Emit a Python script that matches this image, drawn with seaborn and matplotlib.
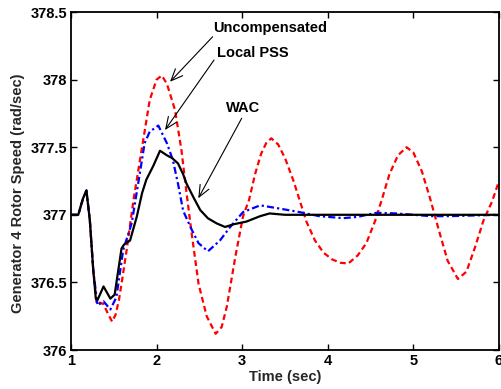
import numpy as np
import pandas as pd
import matplotlib
matplotlib.use("Agg")
import matplotlib.pyplot as plt
import seaborn as sns

# --- data ---
unc_t = [1.00, 1.085, 1.14, 1.18, 1.22, 1.26, 1.30, 1.34, 1.38, 1.43, 1.48, 1.52, 1.56,
         1.60, 1.65, 1.73, 1.825, 1.92, 2.00, 2.06, 2.12, 2.215, 2.29, 2.35, 2.41,
         2.49, 2.585, 2.69, 2.76, 2.82, 2.92, 3.01, 3.08, 3.15, 3.22, 3.28, 3.34,
         3.42, 3.50, 3.60, 3.67, 3.75, 3.85, 3.95, 4.05, 4.15, 4.24, 4.35, 4.45,
         4.55, 4.63, 4.72, 4.82, 4.92, 5.00, 5.10, 5.20, 5.30, 5.40, 5.52, 5.62,
         5.72, 5.82, 5.92, 6.00]
unc_y = [377.00, 377.00, 377.12, 377.18, 376.96, 376.59, 376.34, 376.35, 376.34, 376.27,
         376.21, 376.26, 376.37, 376.53, 376.74, 377.11, 377.48, 377.85, 378.00, 378.03,
         377.97, 377.775, 377.48, 377.16, 376.86, 376.49, 376.25, 376.12, 376.17, 376.32,
         376.69, 376.99, 377.11, 377.30, 377.45, 377.53, 377.566, 377.52, 377.42, 377.25,
         377.11, 376.95, 376.81, 376.72, 376.67, 376.645, 376.64, 376.70, 376.79, 376.95,
         377.11, 377.30, 377.44, 377.50, 377.46, 377.32, 377.11, 376.88, 376.66, 376.525,
         376.58, 376.76, 376.96, 377.10, 377.25]

pss_t = [1.00, 1.085, 1.14, 1.18, 1.22, 1.26, 1.31, 1.38, 1.46, 1.53, 1.61, 1.71, 1.81,
         1.86, 1.92, 2.02, 2.12, 2.19, 2.25, 2.31, 2.41, 2.49, 2.60, 2.74, 2.86, 3.01,
         3.21, 3.40, 3.67, 3.90, 4.18, 4.35, 4.57, 4.80, 5.00, 5.20, 5.43, 5.70, 6.00]
pss_y = [377.00, 377.00, 377.12, 377.18, 376.96, 376.59, 376.33, 376.36, 376.30, 376.39,
         376.74, 376.94, 377.33, 377.53, 377.615, 377.66, 377.53, 377.405, 377.23, 377.03,
         376.89, 376.79, 376.73, 376.81, 376.91, 377.02, 377.07, 377.05, 377.02, 376.99,
         376.975, 376.985, 377.015, 377.01, 377.00, 376.99, 376.99, 376.995, 377.00]

wac_t = [1.00, 1.085, 1.14, 1.18, 1.22, 1.26, 1.29, 1.31, 1.38, 1.46, 1.51, 1.59, 1.62,
         1.69, 1.77, 1.83, 1.88, 1.96, 2.04, 2.12, 2.18, 2.25, 2.31, 2.35, 2.43, 2.51,
         2.60, 2.70, 2.80, 2.90, 3.05, 3.21, 3.32, 3.50, 4.00, 5.00, 6.00]
wac_y = [377.00, 377.00, 377.12, 377.18, 376.96, 376.59, 376.38, 376.37, 376.47, 376.38,
         376.41, 376.75, 376.78, 376.81, 376.99, 377.16, 377.26, 377.36, 377.474, 377.44,
         377.42, 377.38, 377.30, 377.23, 377.13, 377.035, 376.974, 376.937, 376.91, 376.93,
         376.95, 376.99, 377.01, 377.00, 377.00, 377.00, 377.00]

series_names = ["Uncompensated", "Local PSS", "WAC"]
x_ticks = [1, 2, 3, 4, 5, 6]
y_ticks = [376, 376.5, 377, 377.5, 378, 378.5]
y_tick_labels = ["376", "376.5", "377", "377.5", "378", "378.5"]

df = pd.concat([
    pd.DataFrame({"Time": unc_t, "Speed": unc_y, "Series": series_names[0]}),
    pd.DataFrame({"Time": pss_t, "Speed": pss_y, "Series": series_names[1]}),
    pd.DataFrame({"Time": wac_t, "Speed": wac_y, "Series": series_names[2]}),
], ignore_index=True)

sns.set_theme(style="white")
plt.rcParams["font.family"] = ["Liberation Sans", "DejaVu Sans"]
plt.rcParams["font.weight"] = "bold"

fig = plt.figure(figsize=(5.01, 3.89), dpi=100)
ax = fig.add_axes([71 / 501, 39 / 389, 428 / 501, 338 / 389])

palette = {"Uncompensated": "#ff0000", "Local PSS": "#0000ff", "WAC": "#000000"}
dashes = {"Uncompensated": (2.6, 1.6), "Local PSS": (3.2, 1.4, 1.0, 1.4), "WAC": ""}
sns.lineplot(data=df, x="Time", y="Speed", hue="Series", style="Series",
             palette=palette, dashes=dashes, estimator=None, sort=True,
             linewidth=1.6, legend=False, ax=ax)

ax.set_xlim(1, 6)
ax.set_ylim(376, 378.5)
ax.set_xticks(x_ticks)
ax.set_xticklabels([str(t) for t in x_ticks], fontsize=10.5, fontweight="bold")
ax.set_yticks(y_ticks)
ax.set_yticklabels(y_tick_labels, fontsize=10.5, fontweight="bold")
ax.tick_params(direction="in", length=4, width=1, top=True, right=True,
               bottom=True, left=True, colors="black", pad=3)
for s in ax.spines.values():
    s.set_visible(True)
    s.set_color("black")
    s.set_linewidth(1.3)

ax.set_xlabel("Time (sec)", fontsize=10.5, fontweight="bold", labelpad=1)
ax.set_ylabel("Generator 4 Rotor Speed (rad/sec)", fontsize=10.5, fontweight="bold")
ax.yaxis.set_label_coords(-0.108, 0.464)

# annotations
ann = [
    ("Uncompensated", (2.662, 378.379), (2.655, 378.317), (2.157, 377.984)),
    ("Local PSS", (2.702, 378.195), (2.671, 378.145), (2.098, 377.627)),
    ("WAC", (2.811, 377.788), (2.994, 377.714), (2.487, 377.122)),
]
for label, txy, tail, tip in ann:
    ax.text(txy[0], txy[1], label, fontsize=10.5, fontweight="bold",
            ha="left", va="center", color="black")
    ax.annotate("", xy=tip, xytext=tail,
                arrowprops=dict(arrowstyle="->,head_length=0.7,head_width=0.3",
                                color="black", lw=0.8, shrinkA=0, shrinkB=0))

fig.savefig("out.png", dpi=100)
